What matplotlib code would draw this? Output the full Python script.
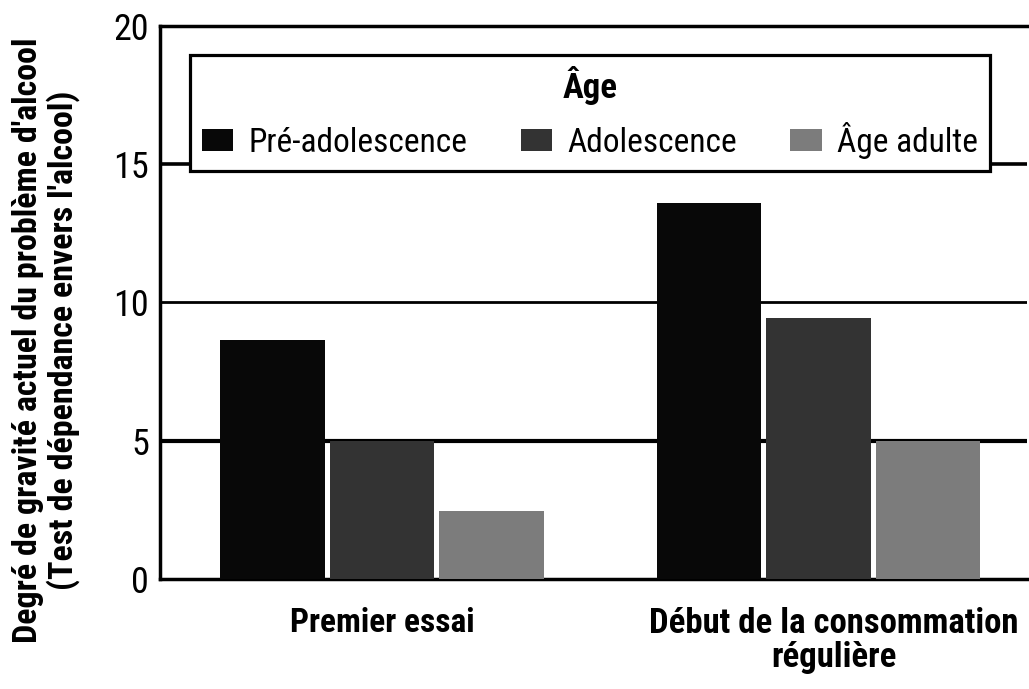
import matplotlib
matplotlib.use("Agg")
import matplotlib.pyplot as plt
import matplotlib.transforms as mtransforms
from matplotlib.patches import Patch
import numpy as np

categories = ["Premier essai", "Début de la consommation\nrégulière"]
series_names = ["Pré-adolescence", "Adolescence", "Âge adulte"]
pre_ado = [8.65, 13.6]
ado = [5.0, 9.45]
adulte = [2.45, 5.0]
yticks = [0, 5, 10, 15, 20]
legend_title = "Âge"
ylabel = "Degré de gravité actuel du problème d'alcool\n(Test de dépendance envers l'alcool)"

colors = ["#080808", "#333333", "#7c7c7c"]
cond = ["Roboto Condensed", "Liberation Sans Narrow", "Roboto", "DejaVu Sans"]

fig = plt.figure(figsize=(10.29, 6.89), dpi=100)
ax = fig.add_axes([0.1555, 0.1597, 0.843, 0.8026])

x = np.arange(len(categories))
pitch = 0.251
width = 0.239
for i, (vals, c, name) in enumerate(zip([pre_ado, ado, adulte], colors, series_names)):
    ax.bar(x + (i - 1) * pitch, vals, width, color=c, zorder=3, label=name)

ax.set_xlim(-0.509, 1.479)
ax.set_ylim(0, 20)
ax.set_yticks(yticks)
ax.set_yticklabels([str(v) for v in yticks], fontsize=26, family=cond)
ax.tick_params(axis="y", length=0, pad=8)
ax.tick_params(axis="x", length=0, pad=20)
ax.set_xticks(x)
ax.set_xticklabels(categories, fontsize=24, fontweight="bold", family=cond, linespacing=1.05)
shift = mtransforms.ScaledTranslation(0.15, 0, fig.dpi_scale_trans)
lab2 = ax.get_xticklabels()[1]
lab2.set_fontsize(25)
lab2.set_transform(lab2.get_transform() + shift)

for y, lw in [(5, 3.0), (10, 2.0), (15, 2.6)]:
    ax.axhline(y, color="black", lw=lw, zorder=1)

for s in ["left", "top", "bottom"]:
    ax.spines[s].set_linewidth(2.5)
    ax.spines[s].set_color("black")
ax.spines["right"].set_visible(False)

fig.text(46 / 1029, 1 - 340 / 689, ylabel, rotation=90, ha="center", va="center",
         fontsize=24.5, fontweight="bold", family=cond, linespacing=1.1, multialignment="center")

handles = [Patch(facecolor=c, edgecolor="none") for c in colors]
leg = ax.legend(handles, series_names, title=legend_title, ncol=3,
                loc="upper left", bbox_to_anchor=(0.0346, 0.948, 0.922, 0.0),
                mode="expand", frameon=True, fancybox=False, edgecolor="black",
                framealpha=1.0,
                prop={"family": cond, "size": 24},
                title_fontproperties={"family": cond, "size": 25, "weight": "bold"},
                handlelength=0.95, handleheight=0.65, handletextpad=0.45,
                columnspacing=0.8, borderpad=0.35, borderaxespad=0.0)
leg.get_frame().set_linewidth(2.3)
leg.set_zorder(5)

fig.savefig("out.png", dpi=100)
